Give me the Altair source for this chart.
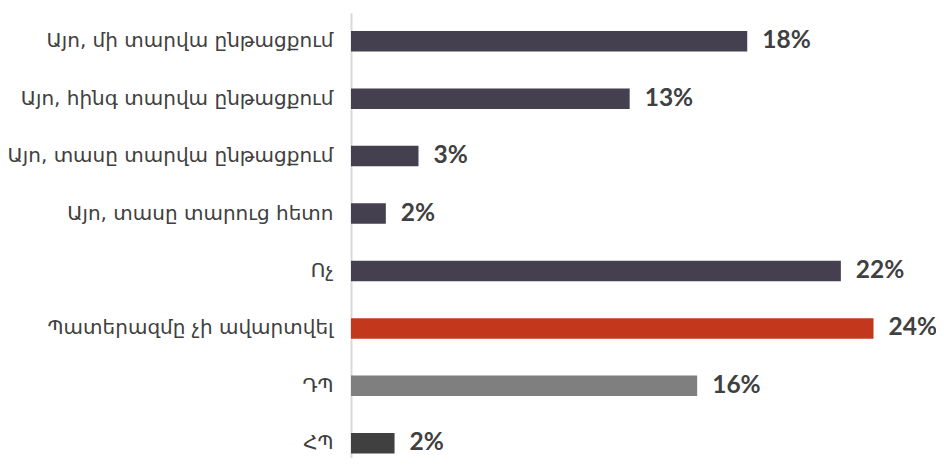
import altair as alt
import pandas as pd

categories = [
    "Այո, մի տարվա ընթացքում",
    "Այո, հինգ տարվա ընթացքում",
    "Այո, տասը տարվա ընթացքում",
    "Այո, տասը տարուց հետո",
    "Ոչ",
    "Պատերազմը չի ավարտվել",
    "ԴՊ",
    "ՀՊ",
]
values = [18.2, 12.8, 3.1, 1.6, 22.5, 24.0, 15.9, 2.0]
value_labels = ["18%", "13%", "3%", "2%", "22%", "24%", "16%", "2%"]
bar_colors = ["#45404F", "#45404F", "#45404F", "#45404F", "#45404F", "#C3381C", "#7F7F7F", "#404040"]

df = pd.DataFrame({
    "cat": categories,
    "val": values,
    "lab": value_labels,
    "col": bar_colors,
})

y_enc = alt.Y(
    "cat:N",
    sort=categories,
    scale=alt.Scale(paddingInner=0.643, paddingOuter=0.196, align=0.8),
    axis=alt.Axis(
        title=None,
        ticks=False,
        domain=True,
        domainColor="#D9D9D9",
        domainWidth=2,
        labelFont="DejaVu Sans",
        labelFontSize=20,
        labelColor="#404040",
        labelPadding=18,
        labelLimit=500,
    ),
)
x_enc = alt.X("val:Q", scale=alt.Scale(domain=[0, 26.87], nice=False), axis=None)

bars = alt.Chart(df).mark_bar().encode(
    y=y_enc,
    x=x_enc,
    color=alt.Color("col:N", scale=None),
)

text = alt.Chart(df).mark_text(
    align="left", baseline="middle", dx=15, font="Lato", fontWeight="bold",
    fontSize=24.5, color="#404040",
).encode(
    y=alt.Y("cat:N", sort=categories),
    x=alt.X("val:Q"),
    text="lab:N",
)

chart = (bars + text).properties(
    width=585,
    height=445,
    autosize=alt.AutoSizeParams(type="none"),
    padding={"left": 343, "top": 5, "right": 0, "bottom": 0},
).configure_view(stroke=None)

chart.save("out.html", embed_options={"renderer": "svg", "actions": False})
